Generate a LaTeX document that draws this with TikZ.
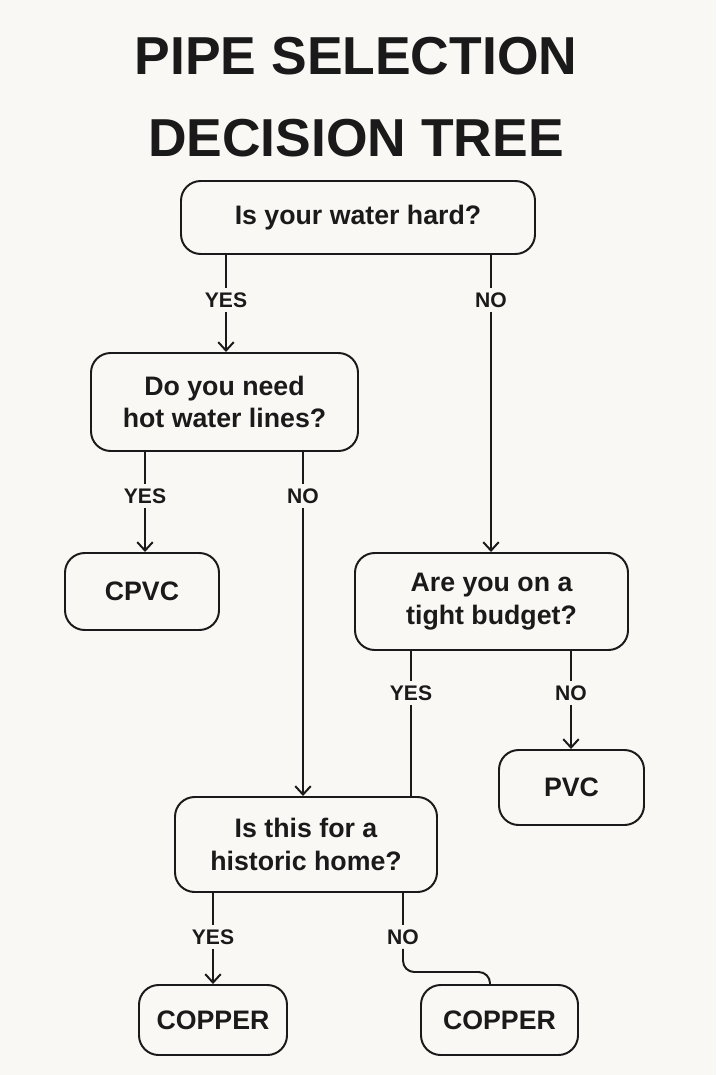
\documentclass[tikz,border=0pt]{standalone}
\usepackage{fontspec}
\setmainfont{Liberation Sans}
\usetikzlibrary{positioning}
\definecolor{paper}{HTML}{FAF8F5}
\definecolor{ink}{HTML}{1A1A1A}
\tikzset{
  box/.style={draw=ink,line width=1.4pt,rounded corners=14pt,align=center,
    font=\fontsize{19}{23}\selectfont\bfseries,text=ink,inner sep=0pt},
  lbl/.style={font=\fontsize{15}{18}\selectfont\bfseries,text=ink,inner sep=3pt},
  link/.style={draw=ink,line width=1.4pt},
  arr/.style={link,->,>={Straight Barb[length=6pt,width=11pt]}}
}
\usetikzlibrary{arrows.meta}
\begin{document}
\begin{tikzpicture}[x=0.025cm,y=-0.025cm]
  \fill[paper] (0,0) rectangle (716,1075);
  \useasboundingbox (0,0) rectangle (716,1075);

  \node[font=\fontsize{38}{58}\selectfont\bfseries,text=ink,align=center] (title) at (356,97)
  {PIPE SELECTION\\DECISION TREE};

  % questions and answers
  \node[box,minimum width=354*0.025cm,minimum height=73*0.025cm] (hard) at (358,217.5) {Is your water hard?};
  \node[box,minimum width=267*0.025cm,minimum height=98*0.025cm] (hot) at (224.5,402) {Do you need\\hot water lines?};
  \node[box,minimum width=154*0.025cm,minimum height=77*0.025cm] (cpvc) at (142,591.5) {CPVC};
  \node[box,minimum width=273*0.025cm,minimum height=97*0.025cm] (budget) at (491.5,601.5) {Are you on a\\tight budget?};
  \node[box,minimum width=145*0.025cm,minimum height=75*0.025cm] (pvc) at (571.5,787.5) {PVC};
  \node[box,minimum width=262*0.025cm,minimum height=95*0.025cm] (historic) at (306,844.5) {Is this for a\\historic home?};
  \node[box,minimum width=148*0.025cm,minimum height=70*0.025cm] (copperA) at (213,1020) {COPPER};
  \node[box,minimum width=157*0.025cm,minimum height=70*0.025cm] (copperB) at (499.5,1020) {COPPER};

  % branch labels
  \node[lbl] (hardYes) at (226,300) {YES};
  \node[lbl] (hardNo) at (491,300) {NO};
  \node[lbl] (hotYes) at (145,496) {YES};
  \node[lbl] (hotNo) at (303,496) {NO};
  \node[lbl] (budgetYes) at (411,693) {YES};
  \node[lbl] (budgetNo) at (571,693) {NO};
  \node[lbl] (historicYes) at (213,937) {YES};
  \node[lbl] (historicNo) at (403,937) {NO};
  \coordinate (bend) at (490,972);

  \draw[link] (hard.south -| hardYes) -- (hardYes.north);
  \draw[arr] (hardYes.south) -- (hot.north -| hardYes);
  \draw[link] (hard.south -| hardNo) -- (hardNo.north);
  \draw[arr] (hardNo.south) -- (budget.north -| hardNo);

  \draw[link] (hot.south -| hotYes) -- (hotYes.north);
  \draw[arr] (hotYes.south) -- (cpvc.north -| hotYes);
  \draw[link] (hot.south -| hotNo) -- (hotNo.north);
  \draw[arr] (hotNo.south) -- (historic.north -| hotNo);

  \draw[link] (budget.south -| budgetYes) -- (budgetYes.north);
  \draw[link] (budgetYes.south) -- (historic.north -| budgetYes);
  \draw[link] (budget.south -| budgetNo) -- (budgetNo.north);
  \draw[arr] (budgetNo.south) -- (pvc.north -| budgetNo);

  \draw[link] (historic.south -| historicYes) -- (historicYes.north);
  \draw[arr] (historicYes.south) -- (copperA.north -| historicYes);
  \draw[link] (historic.south -| historicNo) -- (historicNo.north);
  \draw[link,rounded corners=8pt] (historicNo.south) |- (bend) -- (copperB.north -| bend);
\end{tikzpicture}
\end{document}
